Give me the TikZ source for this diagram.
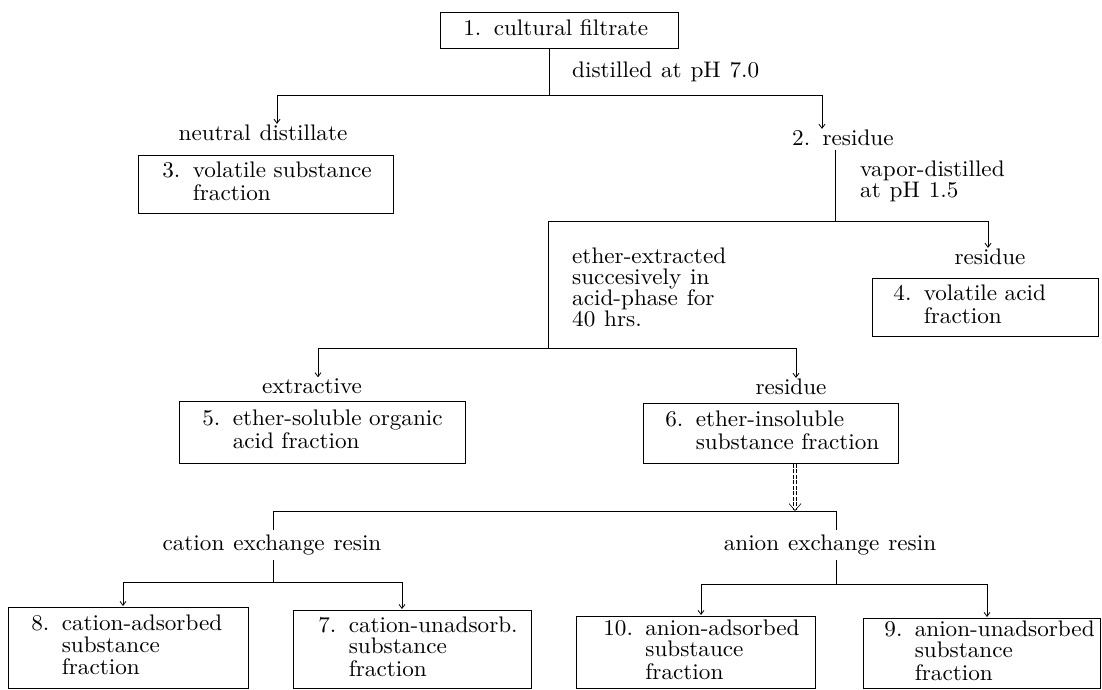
\documentclass[tikz,border=0pt]{standalone}
\usepackage{fontspec}
\newfontfamily\reffont{lmroman10-regular}[Extension=.otf, FakeStretch=1.03, WordSpace=1.15]
\usetikzlibrary{arrows.meta}
\newcommand\fitem[2]{\begin{tabular}{@{}l@{\hspace{0.55em}}l@{}}#1&#2\end{tabular}}
\begin{document}
\begin{tikzpicture}[x=1pt,y=-1pt,
  every node/.style={font=\reffont\fontsize{22.5}{21}\selectfont, inner sep=0pt},
  line/.style={line width=0.8pt},
  box/.style={draw, line width=0.8pt, anchor=north west, align=left, inner ysep=0pt},
  arr/.style={line width=0.8pt, -{Straight Barb[length=4pt,width=6pt]}, shorten >=1pt},
  dbl/.style={double, double distance=2.4pt, line width=0.6pt, dash pattern=on 4pt off 1.5pt, -{Straight Barb[length=7pt,width=12pt]}},
  lab/.style={align=left}]
\useasboundingbox (0,0) rectangle (1102,689);

% boxes
\node[box, inner xsep=23pt, text width=192pt, minimum height=36pt] (b1) at (440,12) {\fitem{1.}{cultural filtrate}};
\node[box, inner xsep=24pt, text width=207pt, minimum height=58pt] (b3) at (138,155) {\fitem{3.}{volatile substance\\&fraction}};
\node[box, inner xsep=21pt, text width=184pt, minimum height=58pt] (b4) at (872,278) {\fitem{4.}{volatile acid\\&fraction}};
\node[box, inner xsep=23pt, text width=240pt, minimum height=62pt] (b5) at (179,401) {\fitem{5.}{ether-soluble organic\\&acid fraction}};
\node[box, inner xsep=22pt, text width=211pt, minimum height=60pt] (b6) at (643,403) {\fitem{6.}{ether-insoluble\\&substance fraction}};
\node[box, inner xsep=23pt, text width=194pt, minimum height=81pt] (b8) at (8,607) {\fitem{8.}{cation-adsorbed\\&substance\\&fraction}};
\node[box, inner xsep=25pt, text width=188pt, minimum height=78pt] (b7) at (293,610) {\fitem{7.}{cation-unadsorb.\\&substance\\&fraction}};
\node[box, inner xsep=27pt, text width=185pt, minimum height=72pt] (b10) at (576,616) {\fitem{10.}{anion-adsorbed\\&substauce\\&fraction}};
\node[box, inner xsep=21pt, text width=195pt, minimum height=70pt] (b9) at (863,618) {\fitem{9.}{anion-unadsorbed\\&substance\\&fraction}};

% labels
\node[lab, anchor=west] (dist) at (572,72) {distilled at pH 7.0};
\node (nd) at (263,133) {neutral distillate};
\node[anchor=west] (r2) at (792,138) {2.\hspace{0.55em}residue};
\node[lab, anchor=west] (vap) at (860,181) {vapor-distilled\\at pH 1.5};
\node (r4) at (990,257) {residue};
\node[lab, anchor=west] (eth) at (572,287) {ether-extracted\\succesively in\\acid-phase for\\40 hrs.};
\node (ext) at (312,386) {extractive};
\node (r6) at (791,387) {residue};
\node (cer) at (272,545) {cation exchange resin};
\node (aer) at (830,545) {anion exchange resin};

% junction coordinates
\coordinate (j1) at (549,95);
\coordinate (h1l) at (277,95);
\coordinate (h1r) at (822,95);
\coordinate (j2) at (835,221);
\coordinate (h2l) at (548,221);
\coordinate (h2r) at (988,221);
\coordinate (h3l) at (318,348);
\coordinate (h3r) at (796,348);
\coordinate (j3) at (548,348);
\coordinate (j4) at (795,511);
\coordinate (h4l) at (273,511);
\coordinate (h4r) at (836,511);
\coordinate (h5l) at (123,582);
\coordinate (h5m) at (273,582);
\coordinate (h5r) at (402,582);
\coordinate (h6l) at (701,584);
\coordinate (h6m) at (836,584);
\coordinate (h6r) at (987,584);

% connectors
\draw[line] (b1.south -| j1) -- (j1);
\draw[line] (h1l) -- (h1r);
\draw[arr] (h1l) -- (h1l |- nd.north);
\draw[arr] (h1r) -- (h1r |- r2.north);
\draw[line, shorten <=4pt] (r2.south -| j2) -- (j2);
\draw[line] (h2l) -- (h2r);
\draw[arr] (h2r) -- (h2r |- r4.north);
\draw[line] (h2l) -- (j3);
\draw[line] (h3l) -- (h3r);
\draw[arr] (h3l) -- (h3l |- ext.north);
\draw[arr] (h3r) -- (h3r |- r6.north);
\draw[dbl] (b6.south -| j4) -- (j4);
\draw[line] (h4l) -- (h4r);
\draw[line, shorten >=5pt] (h4l) -- (h4l |- cer.north);
\draw[line, shorten >=5pt] (h4r) -- (h4r |- aer.north);
\draw[line, shorten <=5pt] (cer.south -| h5m) -- (h5m);
\draw[line, shorten <=5pt] (aer.south -| h6m) -- (h6m);
\draw[line] (h5l) -- (h5r);
\draw[line] (h6l) -- (h6r);
\draw[arr] (h5l) -- (h5l |- b8.north);
\draw[arr] (h5r) -- (h5r |- b7.north);
\draw[arr] (h6l) -- (h6l |- b10.north);
\draw[arr] (h6r) -- (h6r |- b9.north);
\end{tikzpicture}
\end{document}
